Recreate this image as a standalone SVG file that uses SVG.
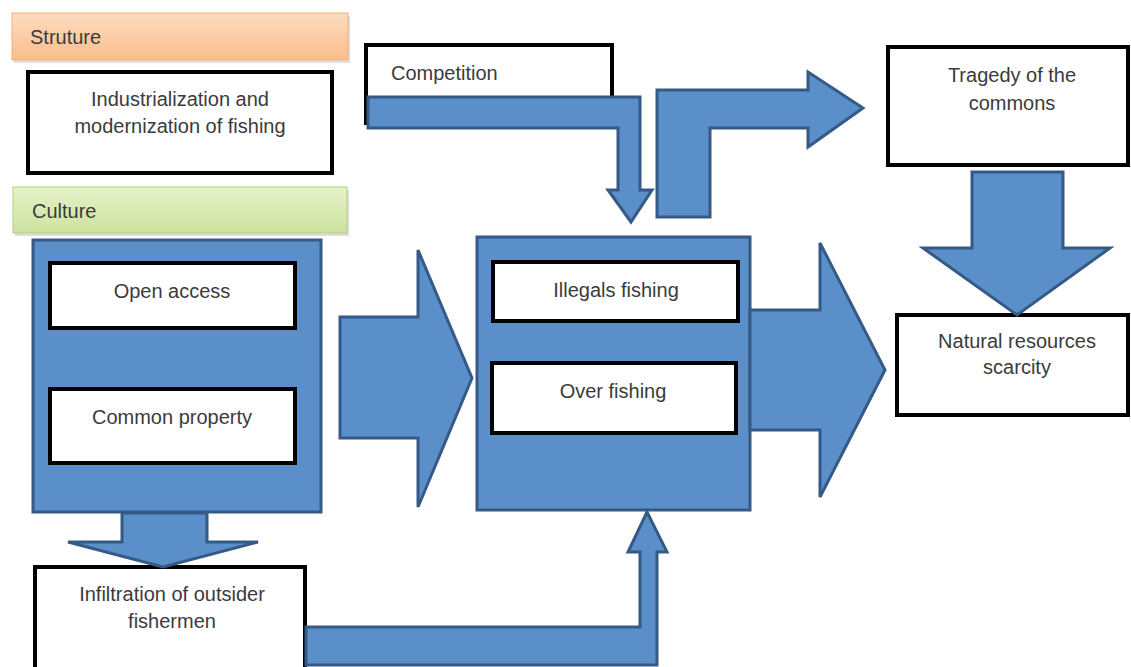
<svg xmlns="http://www.w3.org/2000/svg" width="1131" height="667" viewBox="0 0 1131 667">
  <defs>
    <linearGradient id="orangeFill" x1="0" y1="0" x2="0" y2="1">
      <stop offset="0" stop-color="#fddcc0"/>
      <stop offset="1" stop-color="#f9bd8c"/>
    </linearGradient>
    <linearGradient id="greenFill" x1="0" y1="0" x2="0" y2="1">
      <stop offset="0" stop-color="#e6f2c8"/>
      <stop offset="1" stop-color="#cde39f"/>
    </linearGradient>
  </defs>
  <style>
    .lbl { font-family: "Liberation Sans", Arial, sans-serif; font-size: 20px; fill: #3b3b3b; }
    .mid { text-anchor: middle; }
    .box { fill: #ffffff; stroke: #000000; stroke-width: 4; }
    .panel { fill: #5b8fca; stroke: #355a86; stroke-width: 3; }
    .arrow { fill: #5b8fca; stroke: #355a86; stroke-width: 3; stroke-linejoin: miter; }
    .shadow { fill: #c8c8c8; opacity: 0.6; }
  </style>

  <rect width="1131" height="667" fill="#ffffff"/>

  <!-- category banner: structure -->
  <g id="structure-banner">
    <rect class="shadow" x="14" y="16" width="336" height="47"/>
    <rect x="12" y="13" width="336" height="47" fill="url(#orangeFill)" stroke="#f2b07c" stroke-width="1"/>
    <text class="lbl" x="30" y="44">Struture</text>
  </g>

  <g id="industrialization">
    <rect class="box" x="28" y="72" width="304" height="101"/>
    <text class="lbl mid" x="180" y="106">Industrialization and</text>
    <text class="lbl mid" x="180" y="133">modernization of fishing</text>
  </g>

  <!-- category banner: culture -->
  <g id="culture-banner">
    <rect class="shadow" x="15" y="190" width="334" height="46"/>
    <rect x="13" y="187" width="334" height="46" fill="url(#greenFill)" stroke="#b2cf82" stroke-width="1"/>
    <text class="lbl" x="32" y="218">Culture</text>
  </g>

  <!-- culture panel with its two factors -->
  <g id="culture-panel">
    <rect class="panel" x="33" y="240" width="288" height="272"/>
  </g>
  <g id="open-access">
    <rect class="box" x="50" y="263" width="245" height="65"/>
    <text class="lbl mid" x="172" y="298">Open access</text>
  </g>
  <g id="common-property">
    <rect class="box" x="50" y="389" width="245" height="74"/>
    <text class="lbl mid" x="172" y="424">Common property</text>
  </g>

  <g id="competition">
    <rect class="box" x="366" y="45" width="246" height="78"/>
    <text class="lbl" x="391" y="80">Competition</text>
  </g>

  <!-- central panel: fishing practices -->
  <g id="fishing-panel">
    <rect class="panel" x="477" y="237" width="273" height="273"/>
  </g>
  <g id="illegal-fishing">
    <rect class="box" x="493" y="262" width="245" height="59"/>
    <text class="lbl mid" x="616" y="297">Illegals fishing</text>
  </g>
  <g id="over-fishing">
    <rect class="box" x="492" y="363" width="244" height="70"/>
    <text class="lbl mid" x="613" y="398">Over fishing</text>
  </g>

  <g id="tragedy">
    <rect class="box" x="888" y="47" width="240" height="118"/>
    <text class="lbl mid" x="1012" y="82">Tragedy of the</text>
    <text class="lbl mid" x="1012" y="110">commons</text>
  </g>

  <g id="scarcity">
    <rect class="box" x="897" y="315" width="231" height="100"/>
    <text class="lbl mid" x="1017" y="348">Natural resources</text>
    <text class="lbl mid" x="1017" y="374">scarcity</text>
  </g>

  <g id="infiltration">
    <rect class="box" x="35" y="567" width="270" height="106"/>
    <text class="lbl mid" x="172" y="601">Infiltration of outsider</text>
    <text class="lbl mid" x="172" y="628">fishermen</text>
  </g>

  <!-- block arrows -->
  <g id="connectors">
    <!-- culture -> fishing practices -->
    <path class="arrow" d="M340,317 L418,317 L418,250 L472,378 L418,507 L418,438 L340,438 Z"/>
    <!-- fishing practices -> scarcity -->
    <path class="arrow" d="M750,310 L820,310 L820,243 L885,370 L820,497 L820,430 L750,430 Z"/>
    <!-- competition -> fishing practices -->
    <path class="arrow" d="M368,97 L640,97 L640,190 L652,190 L631,222 L608,190 L618,190 L618,128 L368,128 Z"/>
    <!-- fishing practices -> tragedy of the commons -->
    <path class="arrow" d="M657,217 L657,90 L808,90 L808,72 L863,108 L808,147 L808,128 L710,128 L710,217 Z"/>
    <!-- tragedy -> scarcity -->
    <path class="arrow" d="M972,172 L1063,172 L1063,248 L1110,248 L1017,315 L923,248 L972,248 Z"/>
    <!-- culture -> infiltration -->
    <path class="arrow" d="M122,513 L207,513 L207,542 L258,542 L163,567 L68,542 L122,542 Z"/>
    <!-- infiltration -> fishing practices -->
    <path class="arrow" d="M306,627 L640,627 L640,552 L628,552 L647,512 L667,552 L657,552 L657,665 L306,665 Z"/>
  </g>
</svg>
